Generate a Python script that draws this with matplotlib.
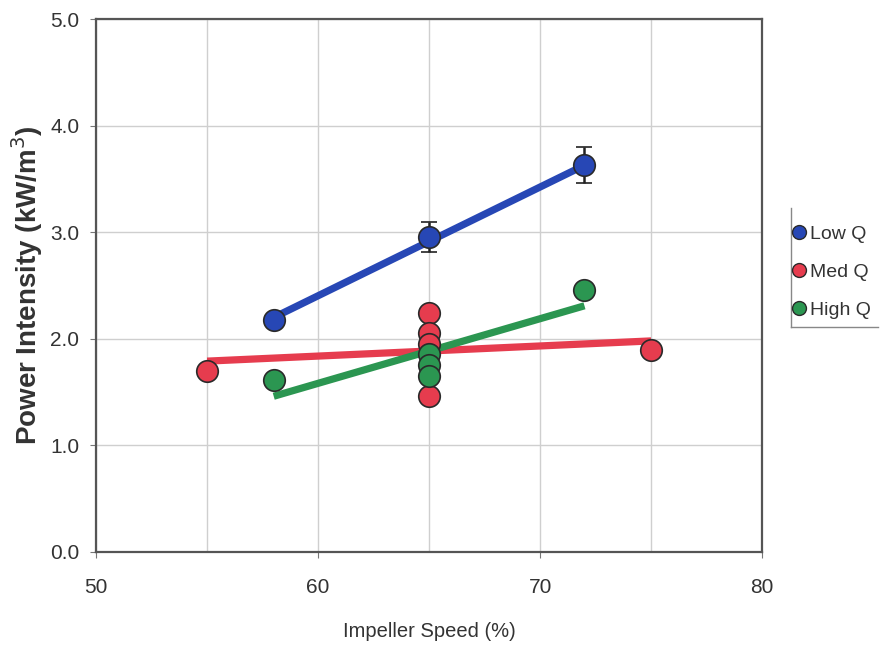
import matplotlib
matplotlib.use("Agg")
import matplotlib.pyplot as plt
from matplotlib.lines import Line2D

plt.rcParams['font.family'] = ['Liberation Sans', 'DejaVu Sans']

# Measured power intensity by impeller speed
low_x = [58, 65, 72]
low_y = [2.18, 2.96, 3.63]
low_err = [0.0, 0.14, 0.17]

med_x = [55, 65, 65, 65, 65, 75]
med_y = [1.70, 2.24, 2.05, 1.95, 1.46, 1.89]

high_x = [58, 65, 65, 65, 72]
high_y = [1.61, 1.86, 1.75, 1.65, 2.46]

# Trend line end points
low_fit_x = [58, 72]
low_fit_y = [2.20, 3.63]
med_fit_x = [55, 75]
med_fit_y = [1.79, 1.98]
high_fit_x = [58, 72]
high_fit_y = [1.46, 2.31]

series_names = ["Low Q", "Med Q", "High Q"]
x_ticks = [50, 60, 70, 80]
y_ticks = [0.0, 1.0, 2.0, 3.0, 4.0, 5.0]

blue = "#2747b5"
red = "#e63c4e"
green = "#2b9651"
edge = "#2a2a2a"

fig = plt.figure(figsize=(8.82, 6.49), dpi=100)
ax = fig.add_axes([0.109, 0.150, 0.755, 0.820])

ax.set_xlim(50, 80)
ax.set_ylim(0, 5)
ax.set_xticks(x_ticks)
ax.set_xticks([55, 65, 75], minor=True)
ax.set_yticks(y_ticks)
ax.set_yticklabels([f"{v:.1f}" for v in y_ticks])
ax.grid(True, which="both", color="#cfcfcf", linewidth=1.0)
ax.set_axisbelow(True)

for s in ax.spines.values():
    s.set_color("#555555")
    s.set_linewidth(1.6)
ax.tick_params(which="both", direction="out", length=4, color="#777777",
               labelsize=15, labelcolor="#333333")
ax.tick_params(axis="x", pad=15)
ax.tick_params(axis="y", pad=8)
ax.tick_params(which="minor", length=0)

lw = 5.2
ax.plot(low_fit_x, low_fit_y, color=blue, lw=lw, solid_capstyle="butt", zorder=2)
ax.plot(med_fit_x, med_fit_y, color=red, lw=lw, solid_capstyle="butt", zorder=2)
ax.plot(high_fit_x, high_fit_y, color=green, lw=lw, solid_capstyle="butt", zorder=2)

ms = 15.5
ax.errorbar(low_x, low_y, yerr=low_err, fmt="o", color=blue, ms=ms, mec=edge,
            mew=1.2, ecolor="#222222", elinewidth=1.8, capsize=6, capthick=1.8,
            zorder=4)
ax.plot(med_x, med_y, "o", color=red, ms=ms, mec=edge, mew=1.2, zorder=3)
ax.plot(high_x, high_y, "o", color=green, ms=ms, mec=edge, mew=1.2, zorder=3)

ax.set_ylabel("Power Intensity (kW/m$^3$)", fontsize=20, fontweight="bold",
              color="#333333", labelpad=4)
ax.set_xlabel("Impeller Speed (%)", fontsize=14.5, color="#333333", labelpad=18)

handles = [Line2D([], [], marker="o", ls="none", color=c, mec=edge, ms=10)
           for c in (blue, red, green)]
leg = fig.legend(handles, series_names, loc="upper left",
                 bbox_to_anchor=(0.895, 0.653), frameon=False, fontsize=14,
                 handletextpad=0.05, borderpad=0.0, labelspacing=1.05,
                 handlelength=1.0, borderaxespad=0)
for t in leg.get_texts():
    t.set_color("#333333")

# legend border: left and bottom edges
fig.add_artist(Line2D([0.897, 0.897], [0.496, 0.680], transform=fig.transFigure,
                      color="#888888", lw=1.0))
fig.add_artist(Line2D([0.897, 0.995], [0.496, 0.496], transform=fig.transFigure,
                      color="#888888", lw=1.0))

fig.savefig("out.png", dpi=100, facecolor="white")
